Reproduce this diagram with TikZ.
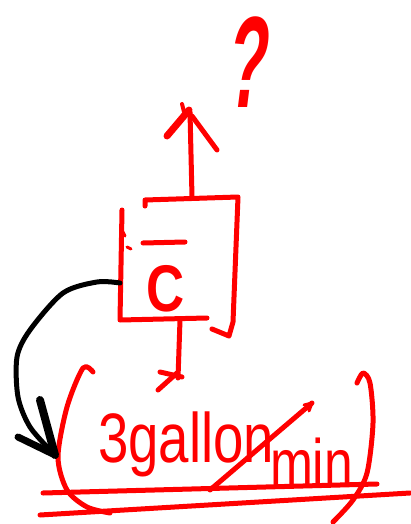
\documentclass[tikz,border=0pt]{standalone}
\usepackage{fontspec}
\setmainfont{Liberation Sans}
\definecolor{pen}{RGB}{255,0,0}
\tikzset{
  redpen/.style={draw=pen, line width=5pt, line cap=round, line join=round},
  blackpen/.style={draw=black, line width=5pt, line cap=round, line join=round},
  handtext/.style={text=pen, inner sep=0pt, outer sep=0pt}
}
\begin{document}
\begin{tikzpicture}[x=1pt,y=-1pt]
\useasboundingbox (0,0) rectangle (411,524);
% question mark
\node[handtext, anchor=base, xscale=0.5, xslant=0.25] (q) at (244,108) {\fontsize{130}{130}\selectfont\bfseries ?};
% up arrow
\draw[redpen] (192,197) -- (190,112);
\draw[redpen, line width=7pt] (189,110) -- (167,136);
\draw[redpen] (192,116) -- (217,150);
\draw[redpen, line width=4pt] (182,104) -- (184,112);
% box
\draw[redpen] (145,206) -- (145,200) -- (238,197) .. controls (236,260) .. (233,322) -- (229,336) -- (212,329);
\draw[redpen] (122,210) -- (120,320) -- (207,318);
\draw[redpen, line width=3pt] (123,232) -- (125,236);
\draw[redpen, line width=3pt] (127,247) -- (131,249);
\draw[redpen] (143,243) -- (185,242);
\node[handtext, xscale=0.8] (c) at (166,289) {\fontsize{66}{66}\selectfont\bfseries C};
% stem below box
\draw[redpen] (180,320) -- (178,378);
\draw[redpen] (160,372) -- (182,377);
\draw[redpen] (158,390) -- (177,373);
% brackets
\draw[redpen] plot[smooth] coordinates {(93,372)(83,368)(67,407)(58,457)(67,490)(87,507)(110,513)};
\draw[redpen] plot[smooth] coordinates {(357,383)(363,373)(370,383)(373,423)(367,473)(353,500)(333,522)};
% text
\node[handtext, anchor=base west, xscale=0.78] (gal) at (98,462) {\fontsize{70}{70}\selectfont 3gallon};
\node[handtext, anchor=base west, xscale=0.77] (min) at (270,486) {\fontsize{67}{67}\selectfont min};
% lines
\draw[redpen] (43,493) -- (377,484);
\draw[redpen] (40,515) -- (410,493);
\draw[redpen] (210,490) -- (312,403);
\draw[redpen, line width=3pt] (304,405) -- (312,403) -- (309,411);
% black arrow
\draw[blackpen] plot[smooth] coordinates {(120,283)(97,282)(63,293)(30,330)(17,357)(18,397)(30,427)(53,453)};
\draw[blackpen, line width=8pt] (40,400) -- (55,455);
\draw[blackpen, line width=7pt] (18,437) -- (55,455);
\end{tikzpicture}
\end{document}
